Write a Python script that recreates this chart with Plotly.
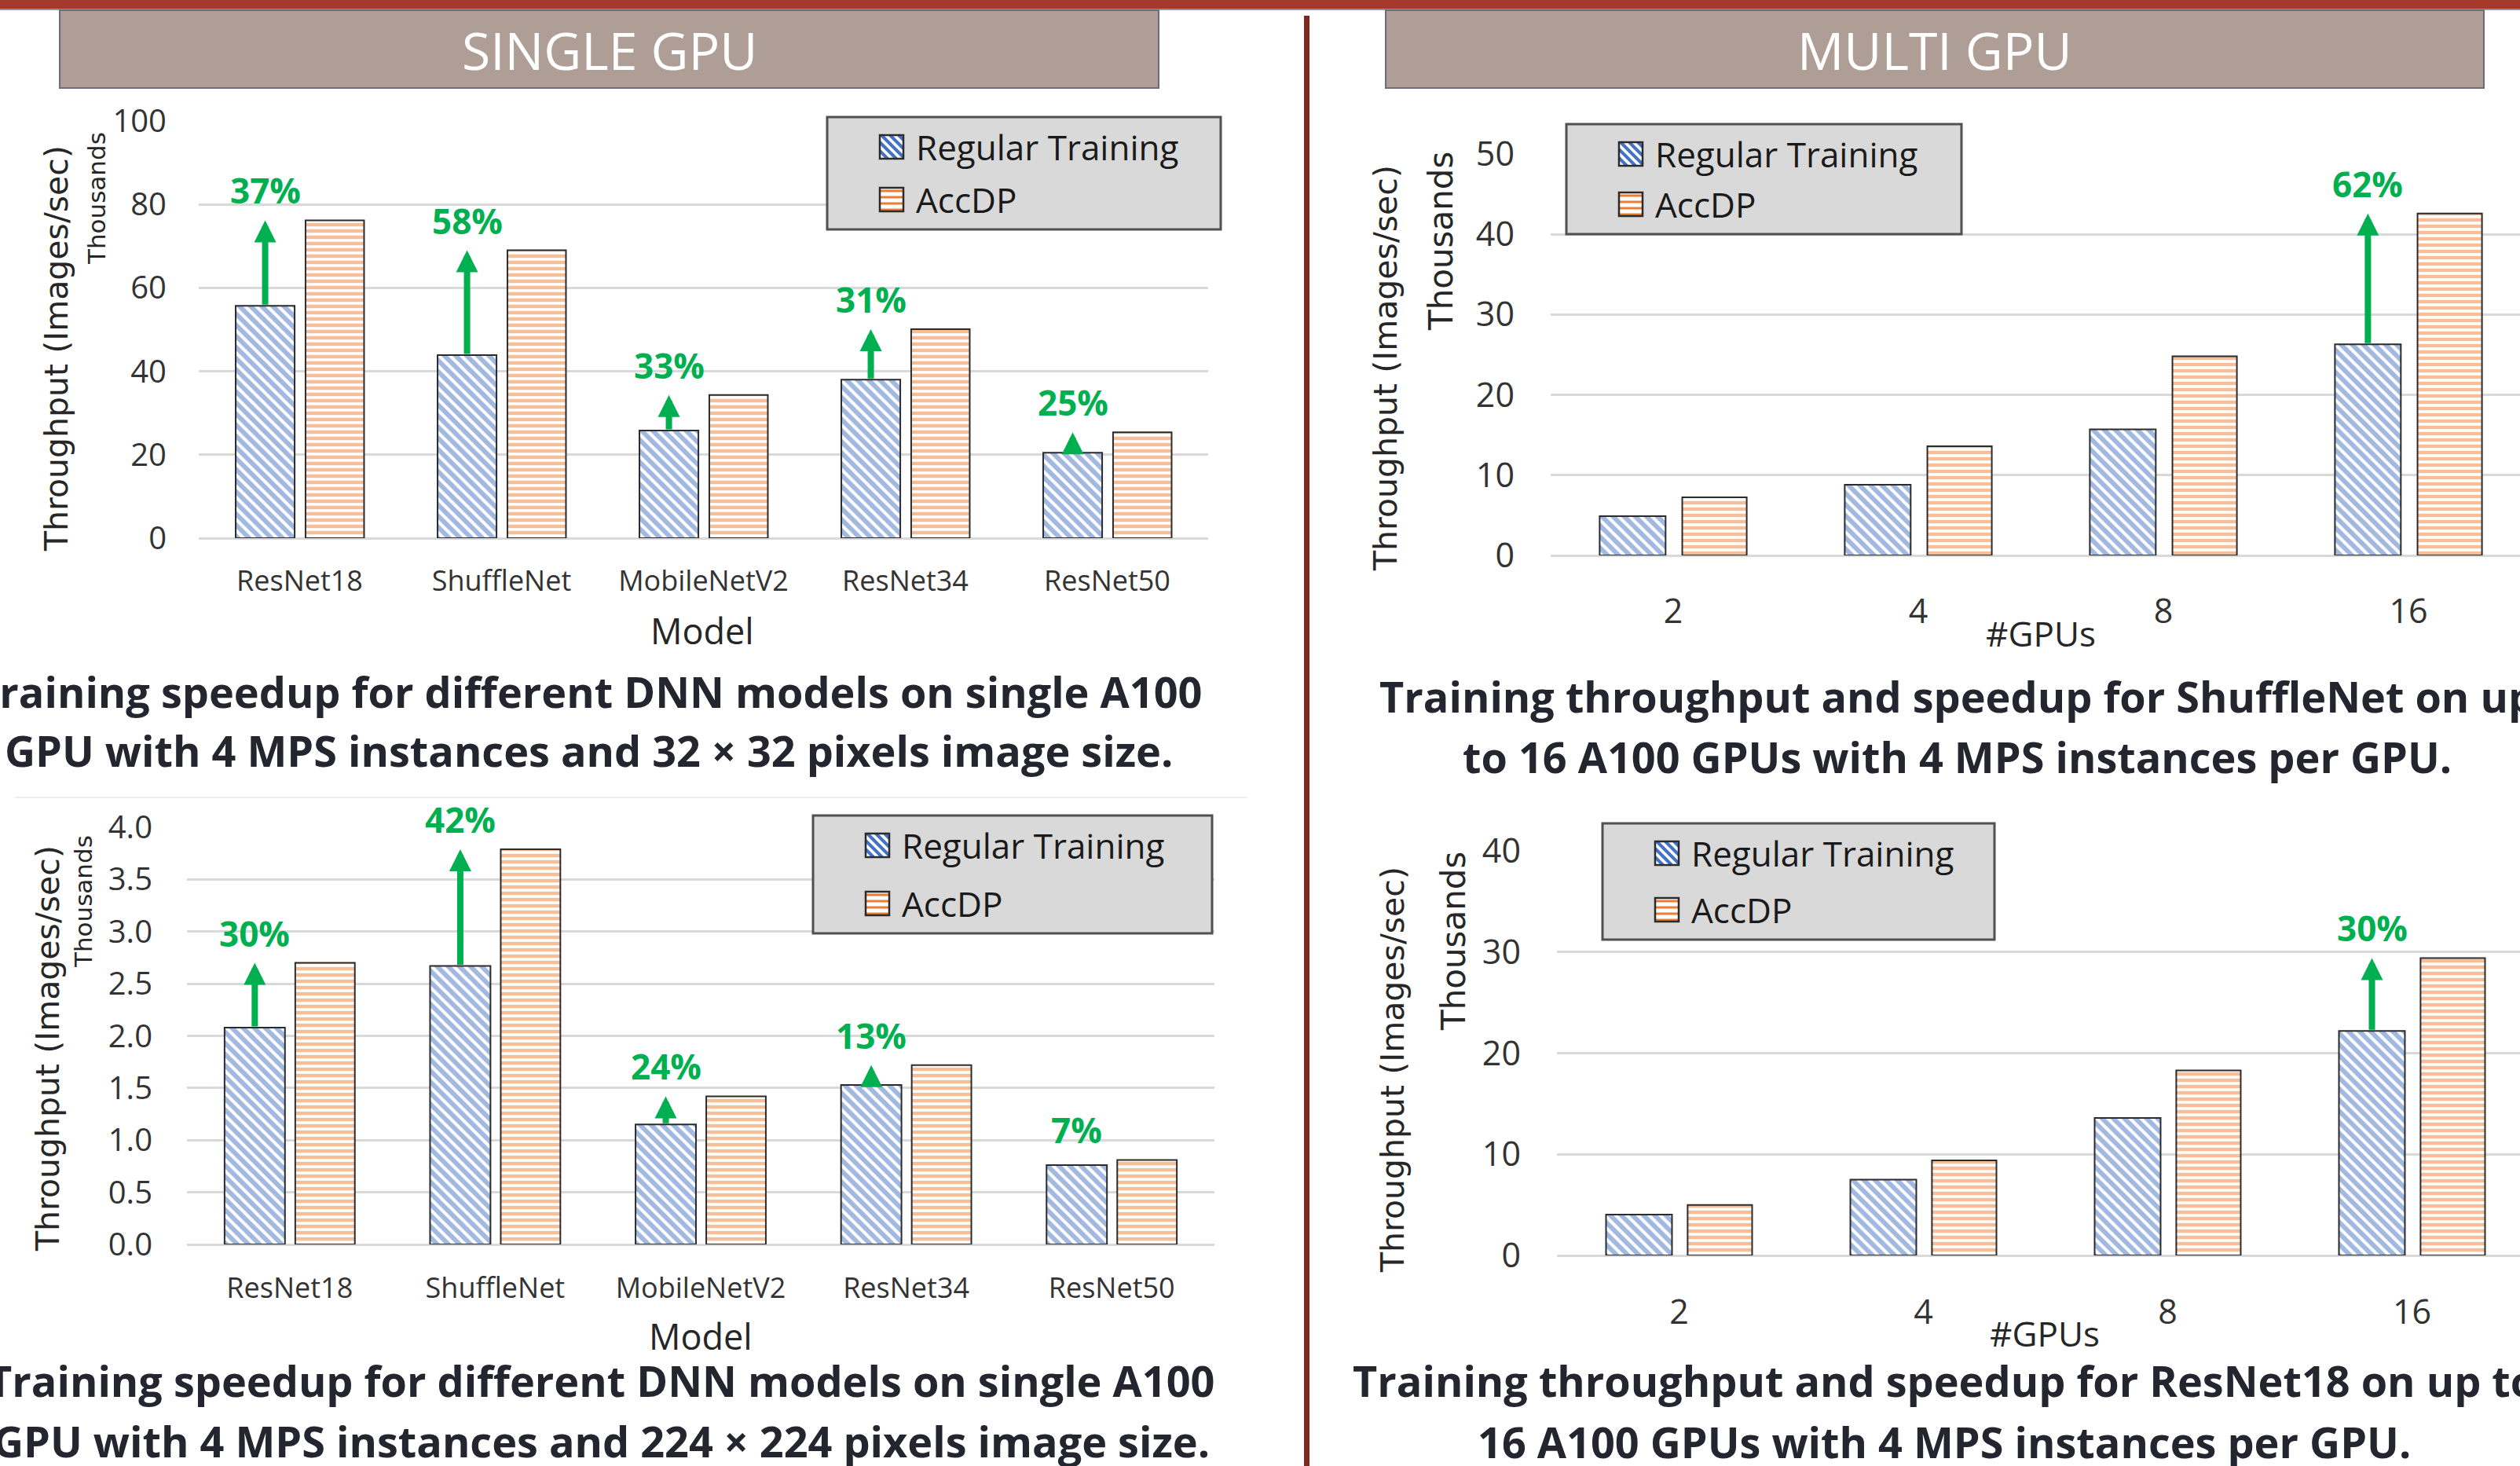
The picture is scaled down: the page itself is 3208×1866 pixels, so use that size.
import plotly.graph_objects as go

W, H = 3208, 1866

# ---------------- data ----------------
models = ["ResNet18", "ShuffleNet", "MobileNetV2", "ResNet34", "ResNet50"]
gpus = ["2", "4", "8", "16"]
series_names = ["Regular Training", "AccDP"]

small_regular = [55.7, 43.9, 25.8, 38.0, 20.5]
small_accdp = [76.2, 69.0, 34.3, 50.1, 25.4]
small_speedup = ["37%", "58%", "33%", "31%", "25%"]

large_regular = [2.08, 2.67, 1.15, 1.53, 0.76]
large_accdp = [2.70, 3.79, 1.42, 1.72, 0.81]
large_speedup = ["30%", "42%", "24%", "13%", "7%"]

shufflenet_regular = [4.9, 8.8, 15.7, 26.3]
shufflenet_accdp = [7.25, 13.6, 24.8, 42.6]
shufflenet_speedup = ["", "", "", "62%"]

resnet18_regular = [4.04, 7.5, 13.6, 22.2]
resnet18_accdp = [5.0, 9.4, 18.3, 29.4]
resnet18_speedup = ["", "", "", "30%"]

small_yticks = [0, 20, 40, 60, 80, 100]
large_yticks = [0.0, 0.5, 1.0, 1.5, 2.0, 2.5, 3.0, 3.5, 4.0]
shuffle_yticks = [0, 10, 20, 30, 40, 50]
resnet_yticks = [0, 10, 20, 30, 40]

header_texts = ["SINGLE GPU", "MULTI GPU"]
captions = [
    ["Training speedup for different DNN models on single A100",
     "GPU with 4 MPS instances and 32 × 32 pixels image size."],
    ["Training throughput and speedup for ShuffleNet on up",
     "to 16 A100 GPUs with 4 MPS instances per GPU."],
    ["Training speedup for different DNN models on single A100",
     "GPU with 4 MPS instances and 224 × 224 pixels image size."],
    ["Training throughput and speedup for ResNet18 on up to",
     "16 A100 GPUs with 4 MPS instances per GPU."],
]
y_title = "Throughput (Images/sec)"
units_label = "Thousands"
x_titles = ["Model", "#GPUs", "Model", "#GPUs"]

# ---------------- styling helpers ----------------
def X(px):
    return px / W

def Y(py):
    return 1 - py / H

def clamp(v):
    return max(0.0, min(1.0, v))

BLUE = "#4472C4"
ORANGE = "#ED7D31"
GREEN = "#00B050"
GRID = "#D9D9D9"
TXT = "#333333"
CAP = "#25252F"
FONT = "Open Sans"
VFONT = "DejaVu Sans"

BLUE_PATTERN = dict(shape="\\", fgcolor=BLUE, bgcolor="white", size=10, solidity=0.6)
ORANGE_PATTERN = dict(shape="-", fgcolor=ORANGE, bgcolor="white", size=8, solidity=0.55)

panels = [
    dict(cats=models, reg=small_regular, acc=small_accdp, sp=small_speedup,
         ticks=small_yticks, fmt="d",
         xpx=(253, 1538), ypx=(154, 685), ncat=5,
         boff=-0.317, bw=0.292, ooff=0.029, ow=0.290,
         ytf=40, xtf=36, ystand=40, xstand=30,
         title=(72, 444), units=(123, 253), ufs=31,
         xt=(894, 802), xtfs=45,
         leg_box=(1053, 149, 1554, 292), cap=(749, 880, 955)),
    dict(cats=gpus, reg=shufflenet_regular, acc=shufflenet_accdp, sp=shufflenet_speedup,
         ticks=shuffle_yticks, fmt="d",
         xpx=(1974, W), ypx=(196, 707), ncat=4, spacing=312,
         boff=-0.300, bw=0.269, ooff=0.037, ow=0.263,
         ytf=43, xtf=43, ystand=45, xstand=42,
         title=(1764, 469), units=(1835, 307), ufs=42,
         xt=(2598, 806), xtfs=44,
         leg_box=(1994, 158, 2497, 298), cap=(2491, 886, 963)),
    dict(cats=models, reg=large_regular, acc=large_accdp, sp=large_speedup,
         ticks=large_yticks, fmt=".1f",
         xpx=(238, 1546), ypx=(1053, 1584), ncat=5,
         boff=-0.317, bw=0.294, ooff=0.027, ow=0.290,
         ytf=40, xtf=36, ystand=43, xstand=31,
         title=(61, 1335), units=(106, 1148), ufs=31,
         xt=(892, 1700), xtfs=45,
         leg_box=(1035, 1038, 1543, 1188), cap=(765, 1757, 1834)),
    dict(cats=gpus, reg=resnet18_regular, acc=resnet18_accdp, sp=resnet18_speedup,
         ticks=resnet_yticks, fmt="d",
         xpx=(1982, W), ypx=(1083, 1598), ncat=4, spacing=311,
         boff=-0.299, bw=0.270, ooff=0.035, ow=0.264,
         ytf=43, xtf=43, ystand=45, xstand=43,
         title=(1773, 1361), units=(1850, 1198), ufs=42,
         xt=(2603, 1697), xtfs=44,
         leg_box=(2040, 1048, 2539, 1196), cap=(2475, 1757, 1835)),
]

fig = go.Figure()
layout = dict(
    width=W, height=H,
    margin=dict(l=0, r=0, t=0, b=0, pad=0, autoexpand=False),
    paper_bgcolor="white", plot_bgcolor="white",
    barmode="overlay",
    showlegend=False,
)
annotations = []
shapes = []

# decorations: top bar, divider, header boxes
shapes.append(dict(type="rect", xref="paper", yref="paper", x0=0, x1=1, y0=Y(11), y1=1,
                   fillcolor="#A4382A", line=dict(width=0), layer="above"))
shapes.append(dict(type="line", xref="paper", yref="paper", x0=0, x1=1, y0=Y(12), y1=Y(12),
                   line=dict(color="#6A6F8A", width=1.5), layer="above"))
shapes.append(dict(type="line", xref="paper", yref="paper", x0=X(1663.5), x1=X(1663.5),
                   y0=Y(20), y1=0, line=dict(color="#7B2A20", width=7), layer="above"))
shapes.append(dict(type="line", xref="paper", yref="paper", x0=X(19), x1=X(1588),
                   y0=Y(1015), y1=Y(1015), line=dict(color="#EEEEEE", width=2)))
for (x0, x1), txt in zip([(76, 1475), (1764, 3162)], header_texts):
    shapes.append(dict(type="rect", xref="paper", yref="paper", x0=X(x0), x1=X(x1),
                       y0=Y(112), y1=Y(13), fillcolor="#AE9E96",
                       line=dict(color="#6E6A7E", width=2), layer="above"))
    annotations.append(dict(xref="paper", yref="paper", x=X((x0 + x1) / 2), y=Y(63),
                            text=txt, showarrow=False, xanchor="center", yanchor="middle",
                            font=dict(family=FONT, size=66, color="white")))


def legend_swatch(sx, sy, kind, s=30):
    """Patterned legend key (square of side s px, top-left at sx, sy)."""
    out = [dict(type="rect", xref="paper", yref="paper", x0=X(sx), x1=X(sx + s),
                y0=Y(sy + s), y1=Y(sy), fillcolor="white", line=dict(width=0),
                layer="above")]
    if kind == "diag":
        for c in range(-s + 6, s, 11):
            xa0, xa1 = max(0, -c), min(s, s - c)
            if xa1 - xa0 < 3:
                continue
            out.append(dict(type="line", xref="paper", yref="paper",
                            x0=X(sx + xa0), y0=Y(sy + xa0 + c),
                            x1=X(sx + xa1), y1=Y(sy + xa1 + c),
                            line=dict(color=BLUE, width=4), layer="above"))
    else:
        for yy in range(4, s, 8):
            out.append(dict(type="line", xref="paper", yref="paper",
                            x0=X(sx), y0=Y(sy + yy), x1=X(sx + s), y1=Y(sy + yy),
                            line=dict(color=ORANGE, width=3), layer="above"))
    out.append(dict(type="rect", xref="paper", yref="paper", x0=X(sx), x1=X(sx + s),
                    y0=Y(sy + s), y1=Y(sy), fillcolor="rgba(0,0,0,0)",
                    line=dict(color="#2b2b2b", width=2.5), layer="above"))
    return out


for k, p in enumerate(panels, 1):
    sfx = "" if k == 1 else str(k)
    xa, ya = "x" + sfx, "y" + sfx
    x0p, x1p = p["xpx"]
    ytop, ybot = p["ypx"]
    if p["ncat"] == 5:
        xrange = [-0.5, 4.5]
        dom = [X(x0p), X(x1p)]
    else:
        dom = [X(x0p), 1.0]
        xrange = [-0.5, -0.5 + (W - x0p) / p["spacing"]]

    fig.add_trace(go.Bar(
        x=p["cats"], y=p["reg"], name=series_names[0], xaxis=xa, yaxis=ya,
        offset=p["boff"], width=p["bw"],
        marker=dict(color="white", line=dict(color="#2b2b2b", width=2),
                    pattern=BLUE_PATTERN),
        hoverinfo="skip"))
    fig.add_trace(go.Bar(
        x=p["cats"], y=p["acc"], name=series_names[1], xaxis=xa, yaxis=ya,
        offset=p["ooff"], width=p["ow"],
        marker=dict(color="white", line=dict(color="#2b2b2b", width=2),
                    pattern=ORANGE_PATTERN),
        hoverinfo="skip"))

    layout["xaxis" + sfx] = dict(
        domain=dom, range=xrange, anchor=ya, type="category",
        showgrid=False, zeroline=False, showline=False, ticks="",
        tickfont=dict(family=FONT, size=p["xtf"], color=TXT),
        ticklabelstandoff=p["xstand"], fixedrange=True, automargin=False)
    layout["yaxis" + sfx] = dict(
        domain=[clamp(Y(ybot)), clamp(Y(ytop))], range=[p["ticks"][0], p["ticks"][-1]],
        anchor=xa, tickvals=p["ticks"], tickformat=p["fmt"],
        showgrid=True, gridcolor=GRID, gridwidth=3,
        zeroline=True, zerolinecolor=GRID, zerolinewidth=3,
        showline=False, ticks="",
        tickfont=dict(family=FONT, size=p["ytf"], color=TXT),
        ticklabelstandoff=p["ystand"], fixedrange=True, automargin=False)

    # legend box with patterned keys
    bx0, by0, bx1, by1 = p["leg_box"]
    shapes.append(dict(type="rect", xref="paper", yref="paper", x0=X(bx0), x1=X(bx1),
                       y0=Y(by1), y1=Y(by0), fillcolor="#D9D9D9",
                       line=dict(color="#505050", width=3), layer="above"))
    rows = [by0 + 38, by1 - 38]
    for name, kind, ry in zip(series_names, ["diag", "horiz"], rows):
        shapes.extend(legend_swatch(bx0 + 67, ry - 15, kind))
        annotations.append(dict(xref="paper", yref="paper", x=X(bx0 + 111), y=Y(ry),
                                text=name, showarrow=False, xanchor="left",
                                yanchor="middle",
                                font=dict(family=FONT, size=44, color="#1a1a1a")))

    # axis titles
    annotations.append(dict(xref="paper", yref="paper", x=X(p["title"][0]), y=Y(p["title"][1]),
                            text=y_title, textangle=-90, showarrow=False,
                            xanchor="center", yanchor="middle",
                            font=dict(family=VFONT, size=41, color="#262626")))
    annotations.append(dict(xref="paper", yref="paper", x=X(p["units"][0]), y=Y(p["units"][1]),
                            text=units_label, textangle=-90, showarrow=False,
                            xanchor="center", yanchor="middle",
                            font=dict(family=VFONT, size=p["ufs"], color="#262626")))
    annotations.append(dict(xref="paper", yref="paper", x=X(p["xt"][0]), y=Y(p["xt"][1]),
                            text=x_titles[k - 1], showarrow=False,
                            xanchor="center", yanchor="middle",
                            font=dict(family=FONT, size=p["xtfs"], color="#262626")))
    # captions
    cx, cy1, cy2 = p["cap"]
    for line, cy in zip(captions[k - 1], (cy1, cy2)):
        annotations.append(dict(xref="paper", yref="paper", x=X(cx), y=Y(cy),
                                text="<b>" + line + "</b>", showarrow=False,
                                xanchor="center", yanchor="middle",
                                font=dict(family=FONT, size=54, color=CAP)))

    # speedup arrows and labels
    bcenter = p["boff"] + p["bw"] / 2
    for i, (r, a, s) in enumerate(zip(p["reg"], p["acc"], p["sp"])):
        if not s:
            continue
        xc = i + bcenter
        annotations.append(dict(xref=xa, yref=ya, x=xc, y=a, axref=xa, ayref=ya,
                                ax=xc, ay=r, text="", showarrow=True,
                                arrowhead=2, arrowwidth=8, arrowsize=0.7,
                                arrowcolor=GREEN, standoff=0, startstandoff=0))
        annotations.append(dict(xref=xa, yref=ya, x=xc, y=a, text="<b>" + s + "</b>",
                                showarrow=False, xanchor="center", yanchor="bottom",
                                yshift=6, font=dict(family=FONT, size=44, color=GREEN)))

layout["annotations"] = annotations
layout["shapes"] = shapes
fig.update_layout(**layout)
fig.write_html("out.html", config={"displayModeBar": False},
               post_script="document.body.style.margin='0px';")
